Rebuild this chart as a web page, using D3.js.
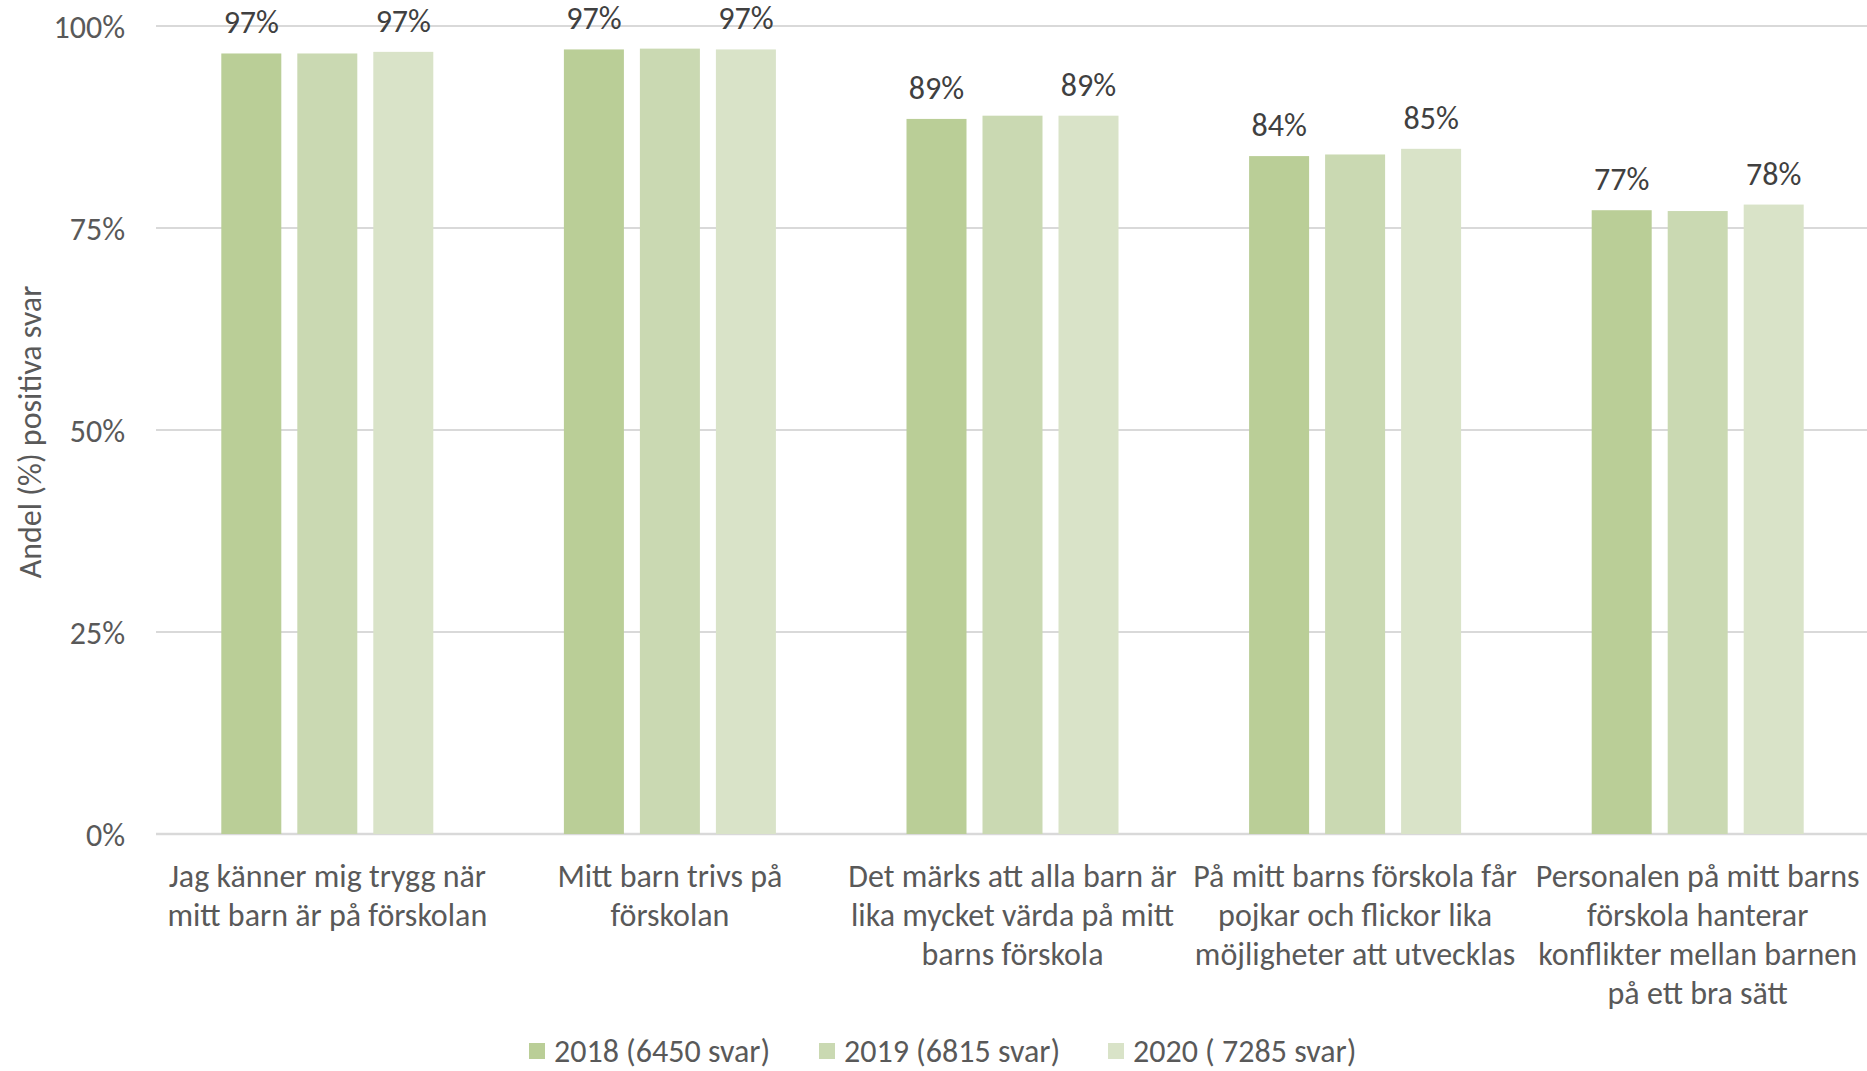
<!DOCTYPE html>
<html>
<head>
<meta charset="utf-8">
<script src="https://cdn.jsdelivr.net/npm/d3@7/dist/d3.min.js"></script>
<style>
  html, body { margin: 0; padding: 0; background: #fff; }
  svg { display: block; font-family: Carlito, Calibri, Lato, "Liberation Sans", sans-serif; }
</style>
</head>
<body>
<svg id="chart" width="1867" height="1071"></svg>
<script>
const categories = [
  "Jag känner mig trygg när\nmitt barn är på förskolan",
  "Mitt barn trivs på\nförskolan",
  "Det märks att alla barn är\nlika mycket värda på mitt\nbarns förskola",
  "På mitt barns förskola får\npojkar och flickor lika\nmöjligheter att utvecklas",
  "Personalen på mitt barns\nförskola hanterar\nkonflikter mellan barnen\npå ett bra sätt"
];
const seriesNames = ["2018 (6450 svar)", "2019 (6815 svar)", "2020 ( 7285 svar)"];
const values2018 = [96.6, 97.1, 88.5, 83.9, 77.2];
const values2019 = [96.6, 97.2, 88.9, 84.1, 77.1];
const values2020 = [96.8, 97.1, 88.9, 84.8, 77.9];
const showLabel = [true, false, true];
const yTicks = [0, 25, 50, 75, 100];
const yTitle = "Andel (%) positiva svar";
const colors = ["#BACE97", "#CAD9B2", "#D9E3C8"];

const allValues = [values2018, values2019, values2020];
const svg = d3.select("#chart");
const FS = 32;

const plotLeft = 156, plotRight = 1869, plotTop = 26, plotBottom = 834;
const y = d3.scaleLinear().domain([0, 100]).range([plotBottom, plotTop]);
const x = d3.scaleBand().domain(categories).range([plotLeft, plotRight]).padding(0);
const bw = x.bandwidth();
const xs = d3.scaleBand().domain(seriesNames)
  .range([bw / 2 - 106, bw / 2 + 106]).paddingInner(16 / 76).paddingOuter(0);

// gridlines
const grid = svg.append("g");
grid.selectAll("line").data(yTicks).join("line")
  .attr("x1", plotLeft).attr("x2", 1867)
  .attr("y1", d => y(d)).attr("y2", d => y(d))
  .attr("stroke", "#D9D9D9").attr("stroke-width", d => d === 0 ? 2.5 : 2);

// y axis
const yAxis = d3.axisLeft(y).tickValues(yTicks).tickSize(0).tickPadding(0).tickFormat(d => d + "%");
const yg = svg.append("g").attr("transform", `translate(125,0)`).call(yAxis);
yg.select(".domain").remove();
yg.selectAll("text").attr("font-size", FS).attr("fill", "#595959")
  .attr("font-family", "Carlito, Calibri, Lato, sans-serif").attr("dy", "0.35em");

// y title
svg.append("text")
  .attr("transform", `translate(41,432) rotate(-90)`)
  .attr("text-anchor", "middle")
  .attr("font-size", FS).attr("fill", "#595959")
  .text(yTitle);

// bars
const groups = svg.append("g").selectAll("g").data(categories).join("g")
  .attr("transform", d => `translate(${x(d)},0)`);
seriesNames.forEach((s, si) => {
  groups.append("rect")
    .attr("x", xs(s)).attr("width", xs.bandwidth())
    .attr("y", (d, i) => y(allValues[si][i]))
    .attr("height", (d, i) => y(0) - y(allValues[si][i]))
    .attr("fill", colors[si]);
  if (showLabel[si]) {
    groups.append("text")
      .attr("x", xs(s) + xs.bandwidth() / 2)
      .attr("y", (d, i) => y(allValues[si][i]) - 20)
      .attr("text-anchor", "middle")
      .attr("font-size", FS).attr("fill", "#404040")
      .text((d, i) => Math.round(allValues[si][i]) + "%");
  }
});

// category labels
const xAxis = d3.axisBottom(x).tickSize(0).tickFormat("");
const xg = svg.append("g").attr("transform", `translate(0,${plotBottom})`).call(xAxis);
xg.select(".domain").remove();
xg.selectAll(".tick").each(function(d) {
  const t = d3.select(this).append("text")
    .attr("text-anchor", "middle").attr("fill", "#595959")
    .attr("font-size", FS)
    .attr("font-family", "Carlito, Calibri, Lato, sans-serif");
  d.split("\n").forEach((line, li) => {
    t.append("tspan").attr("x", 0).attr("y", 53 + li * 39).text(line);
  });
});

// legend
const legendX = [529, 819, 1108];
const lg = svg.append("g").selectAll("g").data(seriesNames).join("g")
  .attr("transform", (d, i) => `translate(${legendX[i]},1051)`);
lg.append("rect").attr("x", 0).attr("y", -8).attr("width", 16).attr("height", 16)
  .attr("fill", (d, i) => colors[i]);
lg.append("text").attr("x", 25).attr("y", 0).attr("dy", "0.35em")
  .attr("font-size", FS).attr("fill", "#595959").text(d => d);
</script>
</body>
</html>
